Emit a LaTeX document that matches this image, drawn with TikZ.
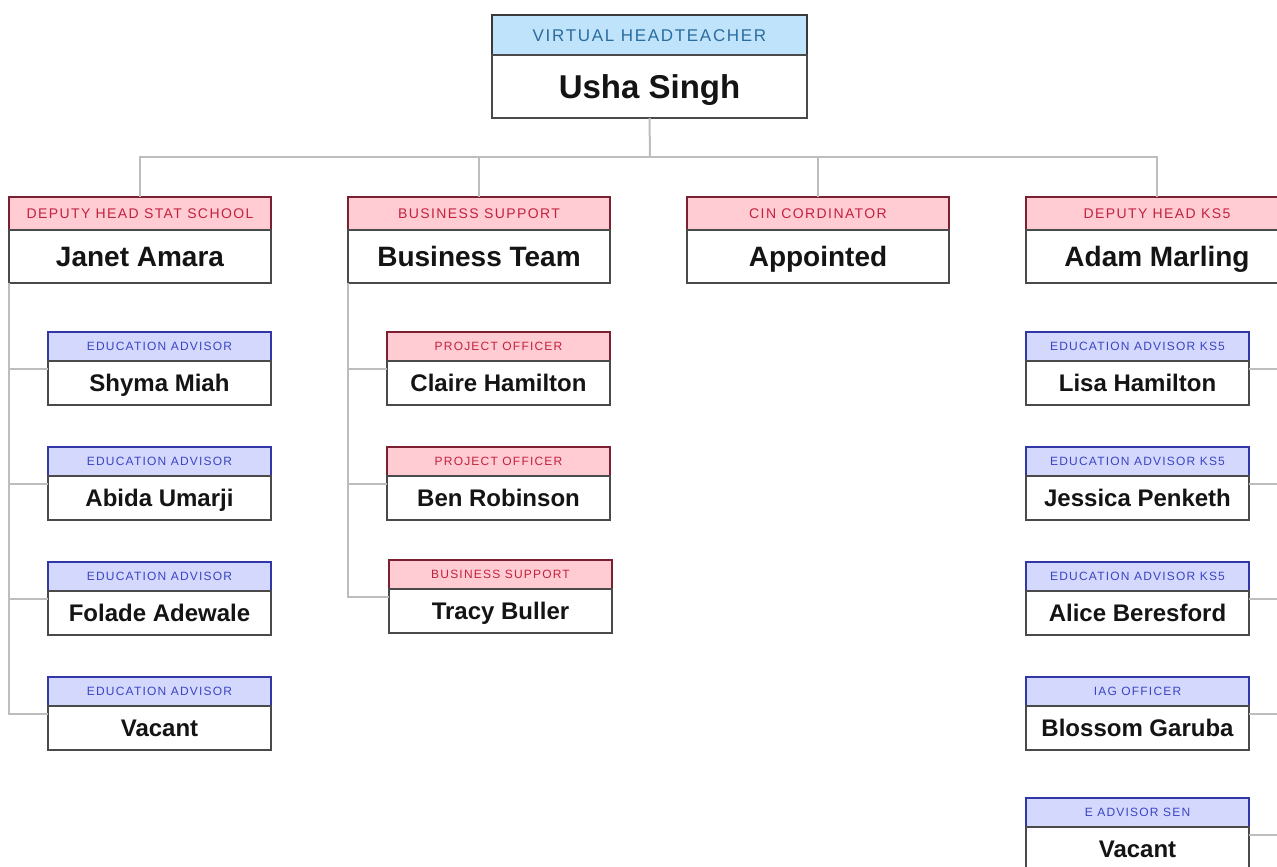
\documentclass[tikz,border=0pt]{standalone}
\usepackage{fontspec}
\setmainfont{Liberation Sans}
\newfontfamily\rolefam[LetterSpace=10]{Liberation Sans}
\usetikzlibrary{positioning, calc}

\definecolor{linkgrey}{HTML}{BDBDBD}
\definecolor{nameedge}{HTML}{4A4A4A}
\definecolor{topfill}{HTML}{BEE3FA}
\definecolor{topedge}{HTML}{3A3A3A}
\definecolor{toptext}{HTML}{2B6C9E}
\definecolor{redfill}{HTML}{FFCCD4}
\definecolor{rededge}{HTML}{7A2030}
\definecolor{redtext}{HTML}{C4213D}
\definecolor{bluefill}{HTML}{D4D8FC}
\definecolor{blueedge}{HTML}{3237A8}
\definecolor{bluetext}{HTML}{3B45C4}

\begin{document}
\begin{tikzpicture}[
		x=0.5pt, y=-0.5pt,
		inner sep=0pt,
		outer sep=0pt,
		link/.style={
				draw=linkgrey,
				line width=1pt
			},
		rolebox/.style={
				rectangle,
				line width=0.9pt,
				align=center,
				text depth=0pt
			},
		tophd/.style={rolebox, fill=topfill, draw=topedge, text=toptext},
		redhd/.style={rolebox, fill=redfill, draw=rededge, text=redtext},
		bluehd/.style={rolebox, fill=bluefill, draw=blueedge, text=bluetext},
		lvone/.style={
				minimum width=157.5pt,
				minimum height=20pt,
				text height=6.1pt,
				font=\rolefam\fontsize{8.5pt}{8.5pt}\selectfont
			},
		lvtwo/.style={
				minimum width=131pt,
				minimum height=16.5pt,
				text height=5pt,
				font=\rolefam\fontsize{7pt}{7pt}\selectfont
			},
		lvthree/.style={
				minimum width=111.5pt,
				minimum height=14.5pt,
				text height=4.3pt,
				font=\rolefam\fontsize{6pt}{6pt}\selectfont
			},
		namebox/.style={
				rectangle,
				draw=nameedge,
				fill=white,
				line width=1pt,
				text=black!92,
				text depth=0pt
			},
		bigname/.style={namebox, minimum width=157.5pt, minimum height=31.5pt,
				text height=11.8pt, font=\bfseries\fontsize{16.5pt}{16.5pt}\selectfont},
		midname/.style={namebox, minimum width=131pt, minimum height=26.5pt,
				text height=10pt, font=\bfseries\fontsize{14pt}{14pt}\selectfont},
		smallname/.style={namebox, minimum width=111.5pt, minimum height=22pt,
				text height=8.6pt, font=\bfseries\fontsize{12pt}{12pt}\selectfont},
		]

		\useasboundingbox (0,0) rectangle (1277,866);
		\clip (0,0) rectangle (1277,866);

		\node[tophd, lvone, anchor=north west] (usha-role) at (492,15) {VIRTUAL HEADTEACHER};
		\node[bigname, below=0pt of usha-role] (usha) {Usha Singh};

		\node[redhd, lvtwo, anchor=north west] (janet-role) at (9,197) {DEPUTY HEAD STAT SCHOOL};
		\node[midname, below=0pt of janet-role] (janet) {Janet Amara};

		\node[redhd, lvtwo, anchor=north west] (biz-role) at (348,197) {BUSINESS SUPPORT};
		\node[midname, below=0pt of biz-role] (biz) {Business Team};

		\node[redhd, lvtwo, anchor=north west] (cin-role) at (687,197) {CIN CORDINATOR};
		\node[midname, below=0pt of cin-role] (cin) {Appointed};

		\node[redhd, lvtwo, anchor=north west] (adam-role) at (1026,197) {DEPUTY HEAD KS5};
		\node[midname, below=0pt of adam-role] (adam) {Adam Marling};

		\node[bluehd, lvthree, anchor=north west] (shyma-role) at (48,332) {EDUCATION ADVISOR};
		\node[smallname, below=0pt of shyma-role] (shyma) {Shyma Miah};
		\node[bluehd, lvthree, below=21pt of shyma] (abida-role) {EDUCATION ADVISOR};
		\node[smallname, below=0pt of abida-role] (abida) {Abida Umarji};
		\node[bluehd, lvthree, below=21pt of abida] (folade-role) {EDUCATION ADVISOR};
		\node[smallname, below=0pt of folade-role] (folade) {Folade Adewale};
		\node[bluehd, lvthree, below=21pt of folade] (vacanta-role) {EDUCATION ADVISOR};
		\node[smallname, below=0pt of vacanta-role] (vacanta) {Vacant};

		\node[redhd, lvthree, anchor=north west] (claire-role) at (387,332) {PROJECT OFFICER};
		\node[smallname, below=0pt of claire-role] (claire) {Claire Hamilton};
		\node[redhd, lvthree, below=21pt of claire] (ben-role) {PROJECT OFFICER};
		\node[smallname, below=0pt of ben-role] (ben) {Ben Robinson};
		\node[redhd, lvthree, below=20pt of ben, xshift=1pt] (tracy-role) {BUSINESS SUPPORT};
		\node[smallname, below=0pt of tracy-role] (tracy) {Tracy Buller};

		\node[bluehd, lvthree, anchor=north west] (lisa-role) at (1026,332) {EDUCATION ADVISOR KS5};
		\node[smallname, below=0pt of lisa-role] (lisa) {Lisa Hamilton};
		\node[bluehd, lvthree, below=21pt of lisa] (jessica-role) {EDUCATION ADVISOR KS5};
		\node[smallname, below=0pt of jessica-role] (jessica) {Jessica Penketh};
		\node[bluehd, lvthree, below=21pt of jessica] (alice-role) {EDUCATION ADVISOR KS5};
		\node[smallname, below=0pt of alice-role] (alice) {Alice Beresford};
		\node[bluehd, lvthree, below=21pt of alice] (blossom-role) {IAG OFFICER};
		\node[smallname, below=0pt of blossom-role] (blossom) {Blossom Garuba};
		\node[bluehd, lvthree, below=24pt of blossom] (vacantb-role) {E ADVISOR SEN};
		\node[smallname, below=0pt of vacantb-role] (vacantb) {Vacant};

		\coordinate (bus) at (650,157);
		\draw[link] (usha.south) -- (bus);
		\foreach \p in {janet, biz, cin, adam}
			\draw[link] (bus) -| (\p-role.north);

		\foreach \p in {shyma, abida, folade, vacanta}
			\draw[link] (janet.south west) |- ($(\p-role.north west)!.5!(\p.south west)$);

		\foreach \p in {claire, ben, tracy}
			\draw[link] (biz.south west) |- ($(\p-role.north west)!.5!(\p.south west)$);

		\foreach \p in {lisa, jessica, alice, blossom, vacantb}
			\draw[link] (adam.south east) |- ($(\p-role.north east)!.5!(\p.south east)$);

	\end{tikzpicture}
\end{document}
